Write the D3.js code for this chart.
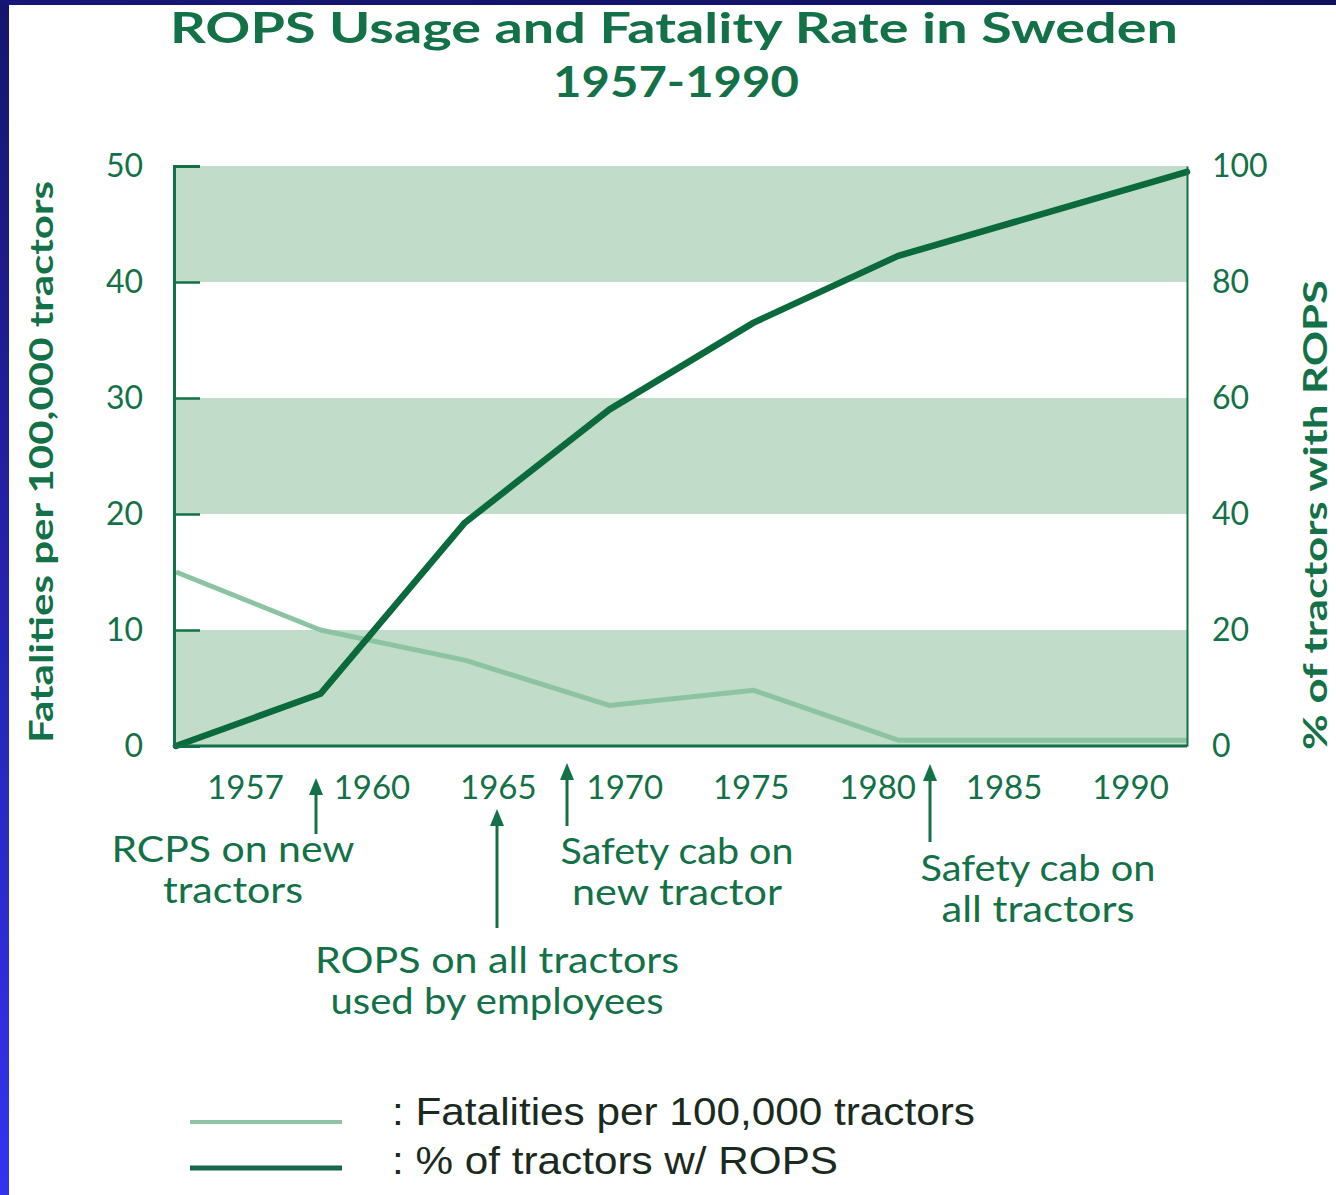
<!DOCTYPE html>
<html>
<head>
<meta charset="utf-8">
<script src="https://cdn.jsdelivr.net/npm/d3@7"></script>
<style>
  html, body { margin: 0; padding: 0; background: #fff; }
  svg { display: block; }
</style>
</head>
<body>
<svg id="chart" width="1336" height="1195"></svg>
<script>
// ---- data ----
const years = [1955, 1960, 1965, 1970, 1975, 1980, 1990];
const fatalities = [15, 10, 7.4, 3.5, 4.8, 0.5, 0.5];
const ropsPct = [0, 9, 38.5, 58, 73, 84.5, 99];
const tickLabels = ["1957", "1960", "1965", "1970", "1975", "1980", "1985", "1990"];
const leftTicks = [0, 10, 20, 30, 40, 50];
const rightTicks = [0, 20, 40, 60, 80, 100];
const bands = [[0, 10], [20, 30], [40, 50]];
const annotations = [
  { lines: ["RCPS on new", "tractors"], widths: [243, 140], arrowX: 316, tip: 778, tail: 834, tx: 233, ty: 862 },
  { lines: ["ROPS on all tractors", "used by employees"], widths: [364, 333], arrowX: 497, tip: 809, tail: 928, tx: 497, ty: 973 },
  { lines: ["Safety cab on", "new tractor"], widths: [233, 210], arrowX: 567, tip: 763, tail: 826, tx: 677, ty: 864 },
  { lines: ["Safety cab on", "all tractors"], widths: [235, 193], arrowX: 930, tip: 764, tail: 842, tx: 1038, ty: 881 }
];
const legendItems = [
  { label: ": Fatalities per 100,000 tractors", color: "#8fc3a3", width: 4 },
  { label: ": % of tractors w/ ROPS", color: "#17674a", width: 5 }
];

// ---- styles ----
const green = "#137148";
const darkLine = "#0b6a3c";
const lightLine = "#8cc4a1";
const bandFill = "#c1dcc8";
const font = "Lato, 'Open Sans', sans-serif";

const svg = d3.select("#chart");

// frame (blue border)
const defs = svg.append("defs");
const grad = defs.append("linearGradient").attr("id", "blueGrad")
  .attr("x1", 0).attr("y1", 0).attr("x2", 0).attr("y2", 1);
grad.append("stop").attr("offset", "0%").attr("stop-color", "#15156e");
grad.append("stop").attr("offset", "100%").attr("stop-color", "#3333f0");
const gradTop = defs.append("linearGradient").attr("id", "topGrad")
  .attr("x1", 0).attr("y1", 0).attr("x2", 1).attr("y2", 0);
gradTop.append("stop").attr("offset", "0%").attr("stop-color", "#16167a");
gradTop.append("stop").attr("offset", "100%").attr("stop-color", "#10105e");
svg.append("rect").attr("x", 0).attr("y", 0).attr("width", 1336).attr("height", 1195).attr("fill", "#ffffff");
svg.append("rect").attr("x", 0).attr("y", 0).attr("width", 9).attr("height", 1195).attr("fill", "url(#blueGrad)");
svg.append("rect").attr("x", 0).attr("y", 0).attr("width", 1336).attr("height", 5).attr("fill", "url(#topGrad)");

// ---- scales ----
const x0 = 174, x1 = 1187, yBottom = 746, yTop = 166;
const x = d3.scaleLinear().domain([1955, 1990]).range([x0 + 2, x1]);
const yL = d3.scaleLinear().domain([0, 50]).range([yBottom, yTop]);
const yR = d3.scaleLinear().domain([0, 100]).range([yBottom, yTop]);
const xLab = d3.scalePoint().domain(tickLabels).range([245, 1130]);

// bands
svg.append("g").selectAll("rect").data(bands).join("rect")
  .attr("x", x0).attr("width", x1 - x0)
  .attr("y", d => yL(d[1])).attr("height", d => yL(d[0]) - yL(d[1]))
  .attr("fill", bandFill);

// lines
const fatData = years.map((yr, i) => [yr, fatalities[i]]);
const ropsData = years.map((yr, i) => [yr, ropsPct[i]]);
svg.append("path").datum(fatData)
  .attr("d", d3.line().x(d => x(d[0])).y(d => yL(d[1])))
  .attr("fill", "none").attr("stroke", lightLine).attr("stroke-width", 5)
  .attr("stroke-linejoin", "round");
svg.append("path").datum(ropsData)
  .attr("d", d3.line().x(d => x(d[0])).y(d => yR(d[1])))
  .attr("fill", "none").attr("stroke", darkLine).attr("stroke-width", 6.5)
  .attr("stroke-linejoin", "round").attr("stroke-linecap", "round");

// left axis
const leftAxis = d3.axisRight(yL).tickValues(leftTicks).tickSize(26).tickFormat("");
const gL = svg.append("g").attr("transform", `translate(${x0},0)`).call(leftAxis);
gL.select(".domain").attr("stroke", green).attr("stroke-width", 3);
gL.selectAll(".tick line").attr("stroke", green).attr("stroke-width", 2.5);
svg.append("g").selectAll("text").data(leftTicks).join("text")
  .attr("x", 143).attr("y", d => yL(d) + 11)
  .attr("text-anchor", "end").attr("font-family", font).attr("font-size", 32)
  .attr("fill", green).text(d => d);

// right axis
const rightAxis = d3.axisRight(yR).tickValues(rightTicks).tickSize(0).tickFormat("");
const gR = svg.append("g").attr("transform", `translate(${x1},0)`).call(rightAxis);
gR.select(".domain").attr("stroke", green).attr("stroke-width", 2);
svg.append("g").selectAll("text").data(rightTicks).join("text")
  .attr("x", 1212).attr("y", d => yR(d) + 11)
  .attr("text-anchor", "start").attr("font-family", font).attr("font-size", 32)
  .attr("fill", green).text(d => d);

// bottom axis
const bottomAxis = d3.axisBottom(xLab).tickSize(0).tickPadding(0);
const gB = svg.append("g").attr("transform", `translate(0,${yBottom})`).call(bottomAxis);
gB.select(".domain").attr("d", `M${x0},0H${x1}`).attr("stroke", green).attr("stroke-width", 3);
gB.selectAll(".tick text").attr("y", 53).attr("dy", 0)
  .attr("font-family", font).attr("font-size", 33).attr("fill", green);

// axis titles
svg.append("text")
  .attr("transform", "translate(53,462) rotate(-90)")
  .attr("text-anchor", "middle").attr("font-family", font).attr("font-weight", 700)
  .attr("font-size", 33).attr("fill", green)
  .attr("textLength", 562).attr("lengthAdjust", "spacingAndGlyphs")
  .text("Fatalities per 100,000 tractors");
svg.append("text")
  .attr("transform", "translate(1327,515) rotate(-90)")
  .attr("text-anchor", "middle").attr("font-family", font).attr("font-weight", 700)
  .attr("font-size", 33).attr("fill", green)
  .attr("textLength", 470).attr("lengthAdjust", "spacingAndGlyphs")
  .text("% of tractors with ROPS");

// title
svg.append("text").attr("x", 674).attr("y", 43)
  .attr("text-anchor", "middle").attr("font-family", font).attr("font-weight", 700)
  .attr("font-size", 42).attr("fill", green)
  .attr("textLength", 1008).attr("lengthAdjust", "spacingAndGlyphs")
  .text("ROPS Usage and Fatality Rate in Sweden");
svg.append("text").attr("x", 676).attr("y", 97)
  .attr("text-anchor", "middle").attr("font-family", font).attr("font-weight", 700)
  .attr("font-size", 42).attr("fill", green)
  .attr("textLength", 246).attr("lengthAdjust", "spacingAndGlyphs")
  .text("1957-1990");

// annotations
const ann = svg.append("g");
annotations.forEach(a => {
  ann.append("line").attr("x1", a.arrowX).attr("x2", a.arrowX)
    .attr("y1", a.tail).attr("y2", a.tip + 12)
    .attr("stroke", green).attr("stroke-width", 3);
  ann.append("path")
    .attr("d", `M${a.arrowX},${a.tip} L${a.arrowX - 7},${a.tip + 17} L${a.arrowX + 7},${a.tip + 17} Z`)
    .attr("fill", green);
  a.lines.forEach((ln, i) => {
    ann.append("text").attr("x", a.tx).attr("y", a.ty + i * 41)
      .attr("text-anchor", "middle").attr("font-family", font)
      .attr("font-size", 37).attr("fill", green)
      .attr("textLength", a.widths[i]).attr("lengthAdjust", "spacingAndGlyphs")
      .text(ln);
  });
});

// legend
const lg = svg.append("g");
legendItems.forEach((it, i) => {
  const ly = 1122 + i * 46;
  lg.append("line").attr("x1", 190).attr("x2", 342).attr("y1", ly).attr("y2", ly)
    .attr("stroke", it.color).attr("stroke-width", it.width);
  lg.append("text").attr("x", 392).attr("y", ly + 3 + i * 3)
    .attr("font-family", "'Liberation Sans', Arial, sans-serif").attr("font-size", 38)
    .attr("fill", "#1b2a1e")
    .attr("textLength", i === 0 ? 583 : 446).attr("lengthAdjust", "spacingAndGlyphs")
    .text(it.label);
});
</script>
</body>
</html>
